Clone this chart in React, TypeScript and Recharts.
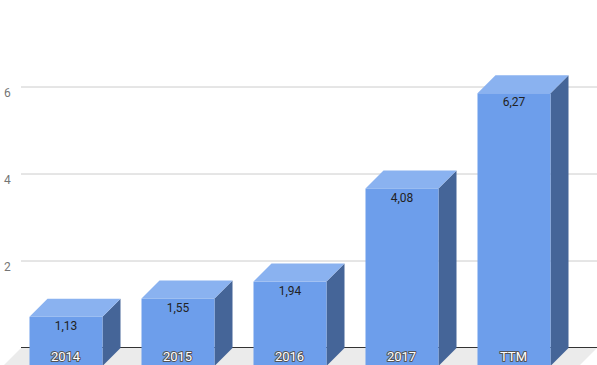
import React from "react";
import { BarChart, Bar, XAxis, YAxis, CartesianGrid, LabelList } from "recharts";

const categories = ["2014", "2015", "2016", "2017", "TTM"];
const values = [1.13, 1.55, 1.94, 4.08, 6.27];
const valueLabels = ["1,13", "1,55", "1,94", "4,08", "6,27"];
const yTicks = [0, 2, 4, 6];

const data = categories.map((c, i) => ({ name: c, value: values[i], label: valueLabels[i] }));

const DEPTH = 18;
const FRONT = "#6d9eeb";
const TOP = "#8ab2f0";
const SIDE = "#456598";
const FONT = "Roboto, Arial, sans-serif";

const Bar3D = (props: any) => {
  const { x, y, width, height } = props;
  const d = DEPTH;
  const top = `${x - d},${y + d} ${x},${y} ${x + width},${y} ${x + width - d},${y + d}`;
  const side = `${x + width - d},${y + d} ${x + width},${y} ${x + width},${y + height} ${x + width - d},${y + height + d}`;
  return (
    <g>
      <polygon points={side} fill={SIDE} />
      <polygon points={top} fill={TOP} />
      <rect x={x - d} y={y + d} width={width} height={height} fill={FRONT} />
    </g>
  );
};

const ValueLabel = (props: any) => {
  const { x, y, width, value } = props;
  return (
    <text x={x - DEPTH + width / 2} y={y + DEPTH + 13} textAnchor="middle" fontFamily={FONT} fontSize={12} fill="#222">
      {value}
    </text>
  );
};

const XTick = (props: any) => {
  const { x, y, payload } = props;
  return (
    <text
      x={x - DEPTH}
      y={y + 13}
      textAnchor="middle"
      fontFamily={FONT}
      fontSize={13}
      fontWeight={400}
      fill="#fff"
      stroke="#555"
      strokeWidth={2}
      strokeLinejoin="round"
      style={{ paintOrder: "stroke" }}
    >
      {payload.value}
    </text>
  );
};

const YTick = (props: any) => {
  const { y, payload } = props;
  if (payload.value === 0) return null;
  return (
    <text x={4} y={y + 10} textAnchor="start" fontFamily={FONT} fontSize={12} fill="#757575">
      {payload.value}
    </text>
  );
};

const GridLine = (props: any) => {
  const { y1, index } = props;
  if (Math.abs(y1) < 1) return <g key={`g${index}`} />;
  if (Math.abs(y1 - 348) < 1) {
    return (
      <g key={`g${index}`}>
        <polygon points={`21,${y1} 597,${y1} ${597 - DEPTH},${y1 + DEPTH} ${21 - DEPTH},${y1 + DEPTH}`} fill="#ebebeb" />
        <line x1={21} x2={597} y1={y1 - 0.5} y2={y1 - 0.5} stroke="#333" strokeWidth={1} />
      </g>
    );
  }
  return <line key={`g${index}`} x1={21} x2={597} y1={y1} y2={y1} stroke="#cccccc" strokeWidth={1} />;
};

export default function App() {
  return (
    <div style={{ position: "absolute", left: 0, top: 0, width: 597, height: 365 }}>
      <BarChart width={597} height={365} data={data} margin={{ top: 0, right: 9.5, bottom: 0, left: 0 }}>
        <CartesianGrid vertical={false} horizontal={GridLine as any} />
        <Bar dataKey="value" barSize={73} shape={Bar3D} isAnimationActive={false}>
          <LabelList dataKey="label" content={ValueLabel} />
        </Bar>
        <XAxis dataKey="name" height={17} axisLine={false} tickLine={false} tickSize={0} tickMargin={0} tick={XTick} interval={0} />
        <YAxis width={27.5} domain={[0, 8]} ticks={yTicks} axisLine={false} tickLine={false} tick={YTick} />
      </BarChart>
    </div>
  );
}
